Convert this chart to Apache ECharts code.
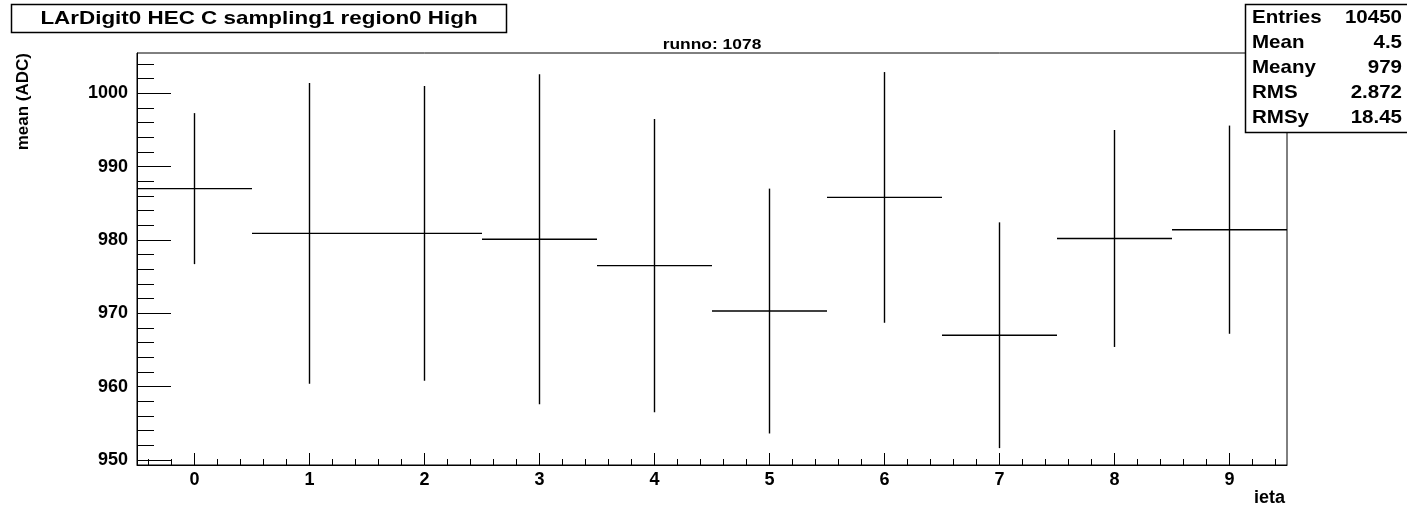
<!DOCTYPE html>
<html>
<head>
<meta charset="utf-8">
<script src="https://cdn.jsdelivr.net/npm/echarts@6/dist/echarts.min.js"></script>
<style>
  html, body { margin: 0; padding: 0; background: #fff; }
  #chart { width: 1407px; height: 507px; }
</style>
</head>
<body>
<div id="chart"></div>
<script>
// Profile of the mean ADC per ieta bin (value = bin mean, error = spread)
const ietaBins = [0, 1, 2, 3, 4, 5, 6, 7, 8, 9];
const meanADC  = [987.0, 980.9, 980.9, 980.1, 976.5, 970.3, 985.8, 967.0, 980.2, 981.4];
const meanErr  = [10.3, 20.5, 20.1, 22.5, 20.0, 16.7, 17.1, 15.4, 14.8, 14.2];

// Axis ticks
const xMajorTicks = [0, 1, 2, 3, 4, 5, 6, 7, 8, 9];
const yMajorTicks = [950, 960, 970, 980, 990, 1000];

// Statistics box
const statsLabels = ['Entries', 'Mean', 'Meany', 'RMS', 'RMSy'];
const statsValues = ['10450', '4.5', '979', '2.872', '18.45'];

const titleText = 'LArDigit0 HEC C sampling1 region0 High';
const subTitleText = 'runno: 1078';
const xName = 'ieta';
const yName = 'mean (ADC)';

// minor ticks: 5 subdivisions per major step, kept inside the axis range
function minorTicks(start, end, step) {
  const out = [];
  for (let k = 0; ; k++) {
    const v = Math.round((start + k * step) * 1000) / 1000;
    if (v > end + 1e-9) break;
    out.push(v);
  }
  return out;
}
const xMinorTicks = minorTicks(-0.4, 9.4, 0.2).filter(v => Math.abs(v - Math.round(v)) > 1e-6);
const yMinorTicks = minorTicks(950, 1004, 2).filter(v => v % 10 !== 0);

const FONT = '"Liberation Sans", Arial, Helvetica, sans-serif';
const X_MIN = -0.5, X_MAX = 9.5;
const Y_MIN = 949.3, Y_MAX = 1005.5;

const chart = echarts.init(document.getElementById('chart'), null, { renderer: 'canvas' });

const labelStyle = { color: '#000', fontFamily: FONT, fontWeight: 'bold', fontSize: 18, formatter: v => String(v) };

const option = {
  animation: false,
  backgroundColor: '#fff',
  grid: {
    left: 137, right: 120, top: 53, bottom: 42,
    show: true, borderColor: '#000', borderWidth: 1, backgroundColor: 'transparent'
  },
  xAxis: [
    {
      type: 'value', min: X_MIN, max: X_MAX, position: 'bottom',
      axisLine: { show: true, onZero: false, lineStyle: { color: '#000', width: 1 } },
      axisTick: { show: true, inside: true, length: 12, customValues: xMajorTicks, lineStyle: { color: '#000', width: 1 } },
      axisLabel: Object.assign({ show: true, margin: 6, customValues: xMajorTicks }, labelStyle),
      splitLine: { show: false }
    },
    {
      type: 'value', min: X_MIN, max: X_MAX, position: 'bottom',
      axisLine: { show: false, onZero: false },
      axisTick: { show: true, inside: true, length: 6, customValues: xMinorTicks, lineStyle: { color: '#000', width: 1 } },
      axisLabel: { show: false },
      splitLine: { show: false }
    }
  ],
  yAxis: [
    {
      type: 'value', min: Y_MIN, max: Y_MAX, position: 'left',
      axisLine: { show: true, onZero: false, lineStyle: { color: '#000', width: 1 } },
      axisTick: { show: true, inside: true, length: 34, customValues: yMajorTicks, lineStyle: { color: '#000', width: 1 } },
      axisLabel: Object.assign({ show: true, margin: 9, customValues: yMajorTicks }, labelStyle),
      splitLine: { show: false }
    },
    {
      type: 'value', min: Y_MIN, max: Y_MAX, position: 'left',
      axisLine: { show: false, onZero: false },
      axisTick: { show: true, inside: true, length: 17, customValues: yMinorTicks, lineStyle: { color: '#000', width: 1 } },
      axisLabel: { show: false },
      splitLine: { show: false }
    }
  ],
  series: [
    {
      type: 'custom',
      xAxisIndex: 0, yAxisIndex: 0,
      clip: true,
      data: ietaBins.map((x, i) => [x, meanADC[i], meanErr[i]]),
      encode: { x: 0, y: 1 },
      renderItem: function (params, api) {
        const x = api.value(0), m = api.value(1), e = api.value(2);
        const left = api.coord([x - 0.5, m]);
        const right = api.coord([x + 0.5, m]);
        const top = api.coord([x, m + e]);
        const bottom = api.coord([x, m - e]);
        const st = { stroke: '#000', lineWidth: 1.4 };
        return {
          type: 'group',
          children: [
            { type: 'line', shape: { x1: left[0], y1: left[1], x2: right[0], y2: right[1] }, style: st },
            { type: 'line', shape: { x1: top[0], y1: top[1], x2: bottom[0], y2: bottom[1] }, style: st }
          ]
        };
      }
    }
  ],
  graphic: [
    // title box
    {
      type: 'rect', z: 100,
      shape: { x: 11.5, y: 4.5, width: 495, height: 28 },
      style: { fill: '#fff', stroke: '#000', lineWidth: 1.5 }
    },
    {
      type: 'text', z: 101, x: 259, y: 19, scaleX: 1.18,
      style: { text: titleText, fill: '#000', font: 'bold 19px ' + FONT, align: 'center', verticalAlign: 'middle' }
    },
    // run number above the frame
    {
      type: 'text', z: 101, x: 712, y: 44.5, scaleX: 1.16,
      style: { text: subTitleText, fill: '#000', font: 'bold 15px ' + FONT, align: 'center', verticalAlign: 'middle' }
    },
    // axis titles
    {
      type: 'text', z: 101, x: 23, y: 53, rotation: Math.PI / 2,
      style: { text: yName, fill: '#000', font: 'bold 17px ' + FONT, align: 'right', verticalAlign: 'middle' }
    },
    {
      type: 'text', z: 101, x: 1285, y: 498,
      style: { text: xName, fill: '#000', font: 'bold 18px ' + FONT, align: 'right', verticalAlign: 'middle' }
    },
    // statistics box
    {
      type: 'rect', z: 100,
      shape: { x: 1245.5, y: 4.5, width: 170, height: 128 },
      style: { fill: '#fff', stroke: '#000', lineWidth: 1.5 }
    }
  ].concat(statsLabels.map((s, i) => ({
    type: 'text', z: 101, x: 1252, y: 18 + i * 25, scaleX: 1.08,
    style: { text: s, fill: '#000', font: 'bold 19px ' + FONT, align: 'left', verticalAlign: 'middle' }
  }))).concat(statsValues.map((s, i) => ({
    type: 'text', z: 101, x: 1402, y: 18 + i * 25, scaleX: 1.08,
    style: { text: s, fill: '#000', font: 'bold 19px ' + FONT, align: 'right', verticalAlign: 'middle' }
  })))
};

chart.setOption(option);
</script>
</body>
</html>
